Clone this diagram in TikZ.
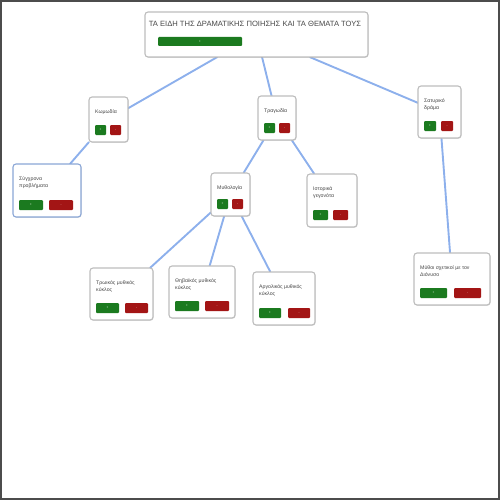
\documentclass[tikz,border=0pt]{standalone}
\usepackage{fontspec}
\setmainfont{Liberation Sans}
\usetikzlibrary{shadows,backgrounds}
\definecolor{linkc}{HTML}{8DB0EC}
\definecolor{cardline}{HTML}{BDBDBD}
\definecolor{btng}{HTML}{1B7A1F}
\definecolor{btnr}{HTML}{A31515}
\definecolor{txtc}{HTML}{484848}
\tikzset{
  cardbox/.style={draw=cardline, line width=1.1pt, fill=white, rounded corners=3pt, inner sep=0pt, outer sep=0pt,
    drop shadow={shadow xshift=0.6pt, shadow yshift=-0.8pt, opacity=0.25}},
  cardtext/.style={text=txtc, font=\fontsize{5.2}{7.8}\selectfont, inner sep=0pt, anchor=north west, align=left},
  gbtn/.style={fill=btng, rounded corners=1pt, inner sep=0pt, text=white, font=\fontsize{3}{3}\selectfont},
  rbtn/.style={fill=btnr, rounded corners=1pt, inner sep=0pt, text=white, font=\fontsize{3}{3}\selectfont},
  link/.style={draw=linkc, line width=1.9pt},
}
% [#1 extra style] #2 name, #3 x1, #4 y1, #5 x2, #6 y2, #7 text, #8 button width, #9 offset of second button
\newcommand{\card}[9][]{%
  \node[cardbox, minimum width={(#5-#3)*1pt}, minimum height={(#6-#4)*1pt}, #1] (#2) at ({(#3+#5)/2},{(#4+#6)/2}) {};
  \node[cardtext] (#2-t) at ({#3+6},{#4+12}) {#7};
  \node[gbtn, minimum width={#8*1pt}, minimum height=10pt] (#2-g) at ({#3+6+#8/2},{#6-12}) {+};
  \node[rbtn, minimum width={#8*1pt}, minimum height=10pt] (#2-r) at ({#3+6+#9+#8/2},{#6-12}) {-};
}
\begin{document}
\begin{tikzpicture}[x=1pt,y=-1pt]
\useasboundingbox (0,0) rectangle (500,500);
\draw[black!70, line width=1.6pt] (0.8,0.8) rectangle (499.2,499.2);
% top card
\node[cardbox, minimum width=223pt, minimum height=45pt] (top) at (256.5,34.5) {};
\node[text=txtc, font=\fontsize{7.6}{8}\selectfont, inner sep=0pt] (top-t) at (255,24) {ΤΑ ΕΙΔΗ ΤΗΣ ΔΡΑΜΑΤΙΚΗΣ ΠΟΙΗΣΗΣ ΚΑΙ ΤΑ ΘΕΜΑΤΑ ΤΟΥΣ};
\node[gbtn, minimum width=84pt, minimum height=9pt] (top-g) at (200,41.5) {+};
% cards
\card{kom}{89}{97}{128}{142}{Κωμωδία}{11}{15}
\card[draw=linkc!80!gray]{syg}{13}{164}{81}{217}{Σύγχρονα\\προβλήματα}{24}{30}
\card{tra}{258}{96}{296}{140}{Τραγωδία}{11}{15}
\card{sat}{418}{86}{461}{138}{Σατυρικό\\δράμα}{12}{17}
\card{myth}{211}{173}{250}{216}{Μυθολογία}{11}{15}
\card{ist}{307}{174}{357}{227}{Ιστορικά\\γεγονότα}{15}{20}
\card{tro}{90}{268}{153}{320}{Τρωικός μυθικός\\κύκλος}{23}{29}
\card{the}{169}{266}{235}{318}{Θηβαϊκός μυθικός\\κύκλος}{24}{30}
\card{arg}{253}{272}{315}{325}{Αργολικός μυθικός\\κύκλος}{22}{29}
\card{myd}{414}{253}{490}{305}{Μύθοι σχετικοί με τον\\Διόνυσο}{27}{34}
% links
\begin{scope}[on background layer]
\draw[link] (top) -- (kom);
\draw[link] (top) -- (tra);
\draw[link] (top) -- (sat);
\draw[link] (kom) -- (syg);
\draw[link] (tra) -- (myth);
\draw[link] (tra) -- (ist);
\draw[link] (myth) -- (tro);
\draw[link] (myth) -- (the);
\draw[link] (myth) -- (arg);
\draw[link] (sat) -- (myd);
\end{scope}
\end{tikzpicture}
\end{document}
